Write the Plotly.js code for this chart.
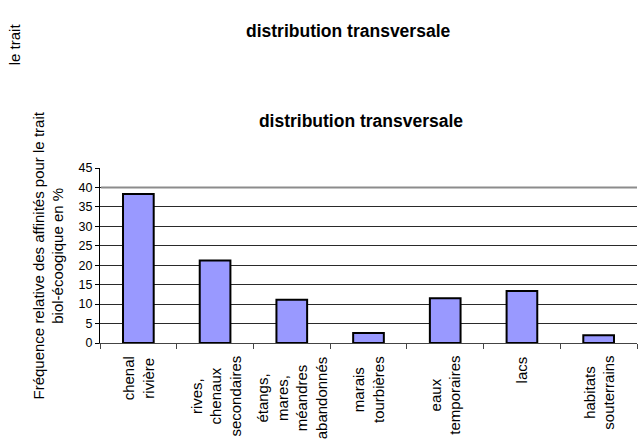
<!DOCTYPE html>
<html>
<head>
<meta charset="utf-8">
<script src="https://cdn.plot.ly/plotly-3.0.1.min.js"></script>
<style>
  html, body { margin: 0; padding: 0; background: #ffffff; }
  #chart { width: 642px; height: 440px; }
</style>
</head>
<body>
<div id="chart"></div>
<script>
// Habitat categories (keys) and the wrapped labels drawn under each bar
const categories = [
  'chenal rivière',
  'rives, chenaux secondaires',
  'étangs, mares, méandres abandonnés',
  'marais tourbières',
  'eaux temporaires',
  'lacs',
  'habitats souterrains'
];
const categoryLabels = [
  'chenal<br>rivière',
  'rives,<br>chenaux<br>secondaires',
  'étangs,<br>mares,<br>méandres<br>abandonnés',
  'marais<br>tourbières',
  'eaux<br>temporaires',
  'lacs',
  'habitats<br>souterrains'
];
// Relative frequency (%) of affinities for each habitat
const frequencies = [38.3, 21.2, 11.1, 2.6, 11.5, 13.4, 2.0];
const yTickValues = [0, 5, 10, 15, 20, 25, 30, 35, 40, 45];
// Gridline drawn in a lighter, heavier grey
const greyGridValue = 40;

const chartTitle = 'distribution transversale';
const yTitleLines = ['Fréquence relative des affinités pour le trait', 'biol-écoogique en %'];

const FONT = '"Liberation Sans", Arial, Helvetica, sans-serif';
const W = 642, H = 440;
const M = { l: 100, r: 5, t: 168, b: 97 };
const plotW = W - M.l - M.r, plotH = H - M.t - M.b;
const px = x => (x - M.l) / plotW;          // pixel -> paper x
const py = y => (H - M.b - y) / plotH;      // pixel -> paper y

const trace = {
  type: 'bar',
  x: categories,
  y: frequencies,
  marker: { color: '#9999FF', line: { color: '#000000', width: 2 } },
  hoverinfo: 'x+y'
};

const labelAnnotations = categories.map((c, i) => ({
  xref: 'x', yref: 'paper',
  x: c, y: py(354),
  xanchor: 'center', yanchor: 'top',
  text: categoryLabels[i],
  textangle: -90,
  align: 'center',
  showarrow: false,
  font: { family: FONT, size: 15, color: '#000000' }
}));

const layout = {
  width: W, height: H,
  margin: M,
  paper_bgcolor: '#ffffff',
  plot_bgcolor: '#ffffff',
  showlegend: false,
  bargap: 0.6,
  title: {
    text: '<b>' + chartTitle + '</b>',
    x: px(361), xref: 'paper', xanchor: 'center',
    y: 1 - 121 / H, yref: 'container', yanchor: 'middle',
    font: { family: FONT, size: 17.5, color: '#000000' }
  },
  xaxis: {
    type: 'category',
    range: [-0.5, categories.length - 0.5],
    showline: true, linecolor: '#444444', linewidth: 1,
    ticks: 'outside', tickson: 'boundaries', ticklen: 5, tickcolor: '#444444',
    showticklabels: false,
    showgrid: false, zeroline: false
  },
  yaxis: {
    range: [0, 45],
    tickvals: yTickValues,
    showline: true, linecolor: '#000000', linewidth: 1,
    ticks: 'outside', ticklen: 4, tickcolor: '#000000',
    tickfont: { family: FONT, size: 12.5, color: '#000000' },
    showgrid: true, gridcolor: '#2a2a2a', gridwidth: 1,
    zeroline: false
  },
  shapes: [
    {
      type: 'line', layer: 'above',
      xref: 'paper', yref: 'y',
      x0: 0.002, x1: 1, y0: greyGridValue, y1: greyGridValue,
      line: { color: '#8c8c8c', width: 2 }
    }
  ],
  annotations: [
    {
      xref: 'paper', yref: 'paper',
      x: px(347.5), y: py(31),
      xanchor: 'center', yanchor: 'middle',
      text: '<b>' + chartTitle + '</b>',
      showarrow: false,
      font: { family: FONT, size: 17.5, color: '#000000' }
    },
    {
      xref: 'paper', yref: 'paper',
      x: px(15.3), y: py(44),
      xanchor: 'center', yanchor: 'middle',
      text: 'le trait',
      textangle: -90,
      showarrow: false,
      font: { family: FONT, size: 15, color: '#000000' }
    },
    {
      xref: 'paper', yref: 'paper',
      x: px(48), y: 0.5,
      xanchor: 'center', yanchor: 'middle',
      text: yTitleLines.join('<br>'),
      textangle: -90,
      align: 'center',
      showarrow: false,
      font: { family: FONT, size: 15, color: '#000000' }
    }
  ].concat(labelAnnotations)
};

Plotly.newPlot('chart', [trace], layout, { staticPlot: true, displayModeBar: false });
</script>
</body>
</html>
